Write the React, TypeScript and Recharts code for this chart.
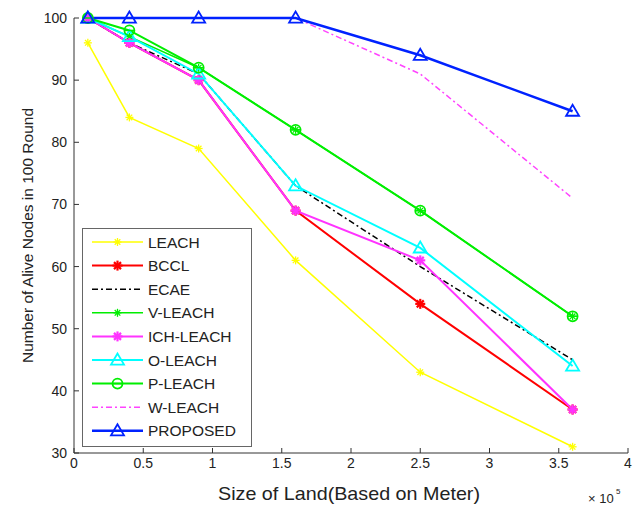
import React from 'react';
import { LineChart, Line, XAxis, YAxis } from 'recharts';

const landSize = [0.1, 0.4, 0.9, 1.6, 2.5, 3.6];

const leach = [96, 84, 79, 61, 43, 31];
const bccl = [100, 96, 90, 69, 54, 37];
const ecae = [100, 96, 91, 73, 60, 45];
const vLeach = [100, 97, 92, 82, 69, 52];
const ichLeach = [100, 96, 90, 69, 61, 37];
const oLeach = [100, 97, 91, 73, 63, 44];
const pLeach = [100, 98, 92, 82, 69, 52];
const wLeach = [100, 100, 100, 100, 91, 71];
const proposed = [100, 100, 100, 100, 94, 85];

const xTicks = [0, 0.5, 1, 1.5, 2, 2.5, 3, 3.5, 4];
const yTicks = [30, 40, 50, 60, 70, 80, 90, 100];

const FONT = 'Liberation Sans, Arial, Helvetica, sans-serif';

type Shape = 'none' | 'star' | 'boldStar' | 'tri' | 'circ';

const series: { name: string; values: number[]; color: string; width: number; dash?: string; shape: Shape }[] = [
  { name: 'LEACH', values: leach, color: '#ffff00', width: 1.5, shape: 'star' },
  { name: 'BCCL', values: bccl, color: '#ff0000', width: 2, shape: 'boldStar' },
  { name: 'ECAE', values: ecae, color: '#000000', width: 1.5, dash: '6 3 2 3', shape: 'none' },
  { name: 'V-LEACH', values: vLeach, color: '#00ee00', width: 1.5, shape: 'star' },
  { name: 'ICH-LEACH', values: ichLeach, color: '#ff33ff', width: 2, shape: 'boldStar' },
  { name: 'O-LEACH', values: oLeach, color: '#00ffff', width: 2, shape: 'tri' },
  { name: 'P-LEACH', values: pLeach, color: '#00ee00', width: 2, shape: 'circ' },
  { name: 'W-LEACH', values: wLeach, color: '#ff44ff', width: 1.5, dash: '6 3 2 3', shape: 'none' },
  { name: 'PROPOSED', values: proposed, color: '#0022ff', width: 2.5, shape: 'tri' },
];

const data = landSize.map((x, i) => {
  const row: Record<string, number> = { x };
  series.forEach((s) => { row[s.name] = s.values[i]; });
  return row;
});

function Marker({ shape, cx, cy, color }: { shape: Shape; cx: number; cy: number; color: string }) {
  if (shape === 'none' || cx == null || cy == null) return <g />;
  if (shape === 'tri') {
    const r = 6.5;
    return (
      <polygon
        points={`${cx},${cy - r} ${cx - r},${cy + r * 0.7} ${cx + r},${cy + r * 0.7}`}
        fill="none" stroke={color} strokeWidth={1.8}
      />
    );
  }
  if (shape === 'circ') {
    return (
      <g>
        <circle cx={cx} cy={cy} r={5} fill="none" stroke={color} strokeWidth={1.8} />
        <line x1={cx - 5} y1={cy} x2={cx + 5} y2={cy} stroke={color} strokeWidth={1.5} />
      </g>
    );
  }
  const r = shape === 'boldStar' ? 5 : 4;
  const w = shape === 'boldStar' ? 2.2 : 1.3;
  const d = r * 0.7;
  return (
    <g stroke={color} strokeWidth={w}>
      <line x1={cx - r} y1={cy} x2={cx + r} y2={cy} />
      <line x1={cx} y1={cy - r} x2={cx} y2={cy + r} />
      <line x1={cx - d} y1={cy - d} x2={cx + d} y2={cy + d} />
      <line x1={cx - d} y1={cy + d} x2={cx + d} y2={cy - d} />
    </g>
  );
}

// legend is drawn as an overlay so it doesn't eat into the plot area
function LegendBox() {
  const rowH = 23.6;
  return (
    <svg width={170} height={219} style={{ position: 'absolute', left: 82, top: 228 }}>
      <rect x={0.5} y={0.5} width={169} height={218} fill="#fff" stroke="#666" strokeWidth={1} />
      {series.map((s, i) => {
        const y = 14 + i * rowH;
        return (
          <g key={s.name}>
            <line x1={10} y1={y} x2={61} y2={y} stroke={s.color} strokeWidth={s.width} strokeDasharray={s.dash} />
            <Marker shape={s.shape} cx={35.5} cy={y} color={s.color} />
            <text x={66} y={y + 5.5} fontSize={15.5} fontFamily={FONT} fill="#222">{s.name}</text>
          </g>
        );
      })}
    </svg>
  );
}

export default function App() {
  return (
    <div style={{ position: 'absolute', left: 0, top: 0, width: 644, height: 509, background: '#fff' }}>
      <LineChart width={644} height={509} data={data} margin={{ top: 18, right: 16, bottom: 0, left: 0 }}>
        <XAxis
          xAxisId="bottom"
          dataKey="x"
          type="number"
          domain={[0, 4]}
          ticks={xTicks}
          height={56}
          tickSize={-5}
          tickMargin={10}
          stroke="#333"
          tick={{ fill: '#222', fontSize: 14, fontFamily: FONT }}
          label={({ viewBox }: any) => (
            <g>
              <text x={viewBox.x + viewBox.width / 2 - 2} y={viewBox.y + 47} textAnchor="middle" fontSize={19} textLength={262} lengthAdjust="spacingAndGlyphs" fontFamily={FONT} fill="#222">
                Size of Land(Based on Meter)
              </text>
              <text x={viewBox.x + viewBox.width - 40} y={viewBox.y + 50} fontSize={13} fontFamily={FONT} fill="#222">
                × 10
              </text>
              <text x={viewBox.x + viewBox.width - 12} y={viewBox.y + 41} fontSize={8} fontFamily={FONT} fill="#222">
                5
              </text>
            </g>
          )}
        />
        <XAxis
          xAxisId="top"
          orientation="top"
          dataKey="x"
          type="number"
          domain={[0, 4]}
          ticks={xTicks}
          height={0}
          tickSize={-5}
          tickFormatter={() => ''}
          stroke="#333"
        />
        <YAxis
          yAxisId="left"
          type="number"
          domain={[30, 100]}
          ticks={yTicks}
          width={74}
          tickSize={-5}
          tickMargin={12}
          stroke="#333"
          tick={{ fill: '#222', fontSize: 14, fontFamily: FONT }}
          label={({ viewBox }: any) => (
            <text
              x={viewBox.x + 33}
              y={viewBox.y + viewBox.height / 2}
              transform={`rotate(-90, ${viewBox.x + 33}, ${viewBox.y + viewBox.height / 2})`}
              textAnchor="middle"
              fontSize={15.5}
              fontFamily={FONT}
              fill="#222"
            >
              Number of Alive Nodes in 100 Round
            </text>
          )}
        />
        <YAxis
          yAxisId="right"
          orientation="right"
          type="number"
          domain={[30, 100]}
          ticks={yTicks}
          width={0}
          tickSize={-5}
          tickFormatter={() => ''}
          stroke="#333"
        />
        {series.map((s) => (
          <Line
            key={s.name}
            xAxisId="bottom"
            yAxisId="left"
            dataKey={s.name}
            stroke={s.color}
            strokeWidth={s.width}
            strokeDasharray={s.dash}
            isAnimationActive={false}
            dot={(p: any) => <Marker key={`${s.name}-${p.index}`} shape={s.shape} cx={p.cx} cy={p.cy} color={s.color} />}
            activeDot={false}
          />
        ))}
      </LineChart>
      <LegendBox />
    </div>
  );
}
